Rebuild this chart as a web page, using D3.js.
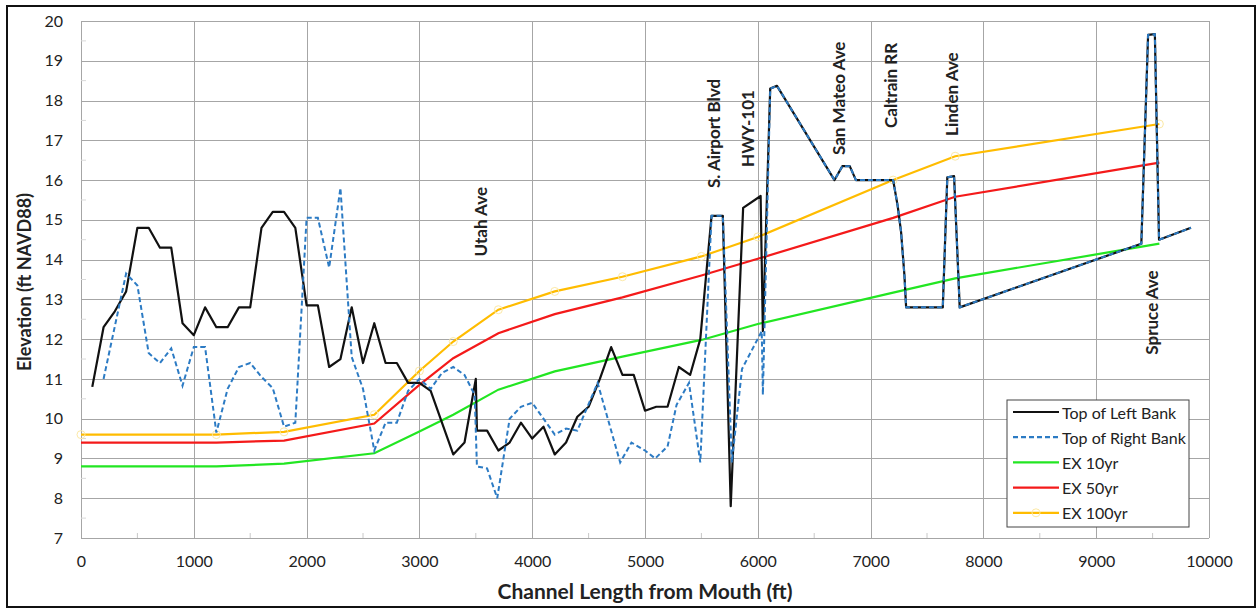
<!DOCTYPE html>
<html lang="en">
<head>
    <meta charset="UTF-8"/>
    <title>Channel profile</title>
    <script src="https://d3js.org/d3.v7.min.js"></script>
    <style type="text/css">
        body {
            margin: 0;
            background: #fff;
        }
        text {
            font-family: Lato, "Open Sans", Arial, sans-serif;
            fill: #222;
        }
        .grid line {
            stroke: #a6a6a6;
            stroke-width: 1px;
            shape-rendering: crispEdges;
        }
        .grid path {
            display: none;
        }
        .tick-label text {
            font-size: 16px;
        }
    </style>
</head>
<body>
<div id="my_dataviz"></div>

<script>
    // tick values
    const xTicks = [0, 1000, 2000, 3000, 4000, 5000, 6000, 7000, 8000, 9000, 10000];
    const yTicks = [7, 8, 9, 10, 11, 12, 13, 14, 15, 16, 17, 18, 19, 20];

    // [station (ft), elevation (ft)]
    const leftBank = [[100,10.8],[200,12.3],[300,12.7],[400,13.2],[500,14.8],[600,14.8],[700,14.3],[800,14.3],
        [900,12.4],[1000,12.1],[1100,12.8],[1200,12.3],[1300,12.3],[1400,12.8],[1500,12.8],[1600,14.8],[1700,15.2],
        [1800,15.2],[1900,14.8],[2000,12.85],[2100,12.85],[2200,11.3],[2300,11.5],[2400,12.8],[2500,11.4],[2600,12.4],
        [2700,11.4],[2800,11.4],[2900,10.9],[3000,10.9],[3100,10.7],[3300,9.1],[3400,9.4],[3500,11.0],[3510,9.7],
        [3600,9.7],[3700,9.2],[3800,9.4],[3900,9.9],[4000,9.5],[4100,9.8],[4200,9.1],[4300,9.4],[4400,10.05],
        [4500,10.3],[4600,11.0],[4700,11.8],[4800,11.1],[4900,11.1],[5000,10.2],[5100,10.3],[5200,10.3],[5300,11.3],
        [5400,11.1],[5490,12.0],[5590,15.1],[5690,15.1],[5760,7.8],[5870,15.3],[6025,15.6],[6045,12.2],[6110,18.3],
        [6170,18.37],[6680,16.0],[6750,16.35],[6815,16.35],[6870,16.0],[7200,16.0],[7240,15.35],[7270,14.7],
        [7300,13.6],[7315,12.8],[7640,12.8],[7680,16.07],[7740,16.1],[7790,12.8],[9400,14.4],[9460,19.65],
        [9520,19.67],[9557,14.5],[9840,14.8]];

    const rightBank = [[200,11.0],[400,13.65],[500,13.35],[600,11.65],[700,11.4],[800,11.77],[900,10.83],
        [1000,11.8],[1100,11.8],[1200,9.65],[1300,10.75],[1400,11.3],[1500,11.4],[1600,11.05],[1700,10.77],
        [1800,9.8],[1900,9.9],[2000,15.05],[2100,15.05],[2200,13.8],[2300,15.8],[2400,11.55],[2500,10.75],
        [2600,9.2],[2700,9.9],[2800,9.9],[2900,10.7],[3000,11.0],[3100,10.75],[3200,11.15],[3300,11.3],
        [3400,11.1],[3490,10.6],[3510,8.8],[3600,8.75],[3690,8.0],[3800,10.0],[3900,10.3],[4000,10.4],
        [4100,10.0],[4200,9.6],[4300,9.75],[4400,9.7],[4580,10.9],[4780,8.9],[4880,9.4],[5000,9.2],[5090,9.0],
        [5200,9.3],[5280,10.35],[5390,10.9],[5490,8.9],[5590,15.1],[5690,15.1],[5770,8.9],[5860,11.25],
        [6035,12.2],[6045,10.6],[6110,18.3],[6170,18.37],[6680,16.0],[6750,16.35],[6815,16.35],[6870,16.0],
        [7200,16.0],[7240,15.35],[7270,14.7],[7300,13.6],[7315,12.8],[7640,12.8],[7680,16.07],[7740,16.1],
        [7790,12.8],[9400,14.4],[9460,19.65],[9520,19.67],[9557,14.5],[9840,14.8]];

    const ex10 = [[0,8.8],[1200,8.8],[1800,8.87],[2600,9.13],[3000,9.68],[3300,10.1],[3700,10.73],[4200,11.19],
        [4800,11.56],[5500,11.98],[6000,12.38],[7200,13.17],[7750,13.53],[9560,14.4]];
    const ex50 = [[0,9.4],[1200,9.4],[1800,9.45],[2600,9.88],[3000,10.85],[3300,11.52],[3700,12.15],[4200,12.63],
        [4800,13.05],[5500,13.6],[6000,14.02],[7200,15.05],[7750,15.58],[9560,16.44]];
    const ex100 = [[0,9.6],[1200,9.6],[1800,9.67],[2600,10.1],[3000,11.2],[3300,11.94],[3700,12.74],[4200,13.2],
        [4800,13.57],[5500,14.08],[6000,14.57],[7200,16.0],[7750,16.6],[9560,17.41]];

    // crossing labels: [station, label, elevation at the start of the text]
    const crossings = [[3538,"Utah Ave",14.08],[5603,"S. Airport Blvd",15.8],[5913,"HWY-101",16.33],
        [6711,"San Mateo Ave",16.63],[7177,"Caltrain RR",17.31],[7718,"Linden Ave",17.11],[9490,"Spruce Ave",11.61]];

    const legendNames = ["Top of Left Bank", "Top of Right Bank", "EX 10yr", "EX 50yr", "EX 100yr"];

    // set the dimensions and margins of the graph
    const W = 1257, H = 609;
    const margin = {top: 21, right: 48, bottom: 71, left: 81};
    const width = W - margin.left - margin.right;
    const height = H - margin.top - margin.bottom;

    const root = d3.select("#my_dataviz")
        .append("svg")
        .attr("width", W)
        .attr("height", H);

    // outer frame
    root.append("rect")
        .attr("x", 7).attr("y", 6)
        .attr("width", W - 9).attr("height", H - 8)
        .attr("fill", "none")
        .attr("stroke", "#111")
        .attr("stroke-width", 2);

    const svg = root.append("g")
        .attr("transform", "translate(" + margin.left + "," + margin.top + ")");

    const x = d3.scaleLinear().domain([0, 10000]).range([0, width]);
    const y = d3.scaleLinear().domain([7, 20]).range([height, 0]);

    // grid
    svg.append("g")
        .attr("class", "grid")
        .call(d3.axisBottom(x).tickValues(xTicks).tickSize(height).tickFormat(""));
    svg.append("g")
        .attr("class", "grid")
        .call(d3.axisLeft(y).tickValues(yTicks).tickSize(-width).tickFormat(""));

    // minor ticks
    svg.append("g")
        .selectAll("line")
        .data(d3.range(500, 10000, 1000))
        .enter().append("line")
        .attr("x1", function(d) { return x(d); })
        .attr("x2", function(d) { return x(d); })
        .attr("y1", height).attr("y2", height - 5)
        .attr("stroke", "#c8c8c8");
    svg.append("g")
        .selectAll("line")
        .data(d3.range(7.5, 20, 1))
        .enter().append("line")
        .attr("x1", 0).attr("x2", 5)
        .attr("y1", function(d) { return y(d); })
        .attr("y2", function(d) { return y(d); })
        .attr("stroke", "#d8d8d8");

    // tick labels
    const xAxis = svg.append("g")
        .attr("class", "tick-label")
        .attr("transform", "translate(0," + height + ")")
        .call(d3.axisBottom(x).tickValues(xTicks).tickSize(0).tickPadding(18).tickFormat(d3.format("d")));
    xAxis.select(".domain").remove();

    const yAxis = svg.append("g")
        .attr("class", "tick-label")
        .call(d3.axisLeft(y).tickValues(yTicks).tickSize(0).tickPadding(18));
    yAxis.select(".domain").remove();

    // axis titles
    svg.append("text")
        .attr("x", 645 - margin.left)
        .attr("y", height + 61)
        .attr("text-anchor", "middle")
        .style("font-size", "21px")
        .style("font-weight", "bold")
        .text("Channel Length from Mouth (ft)");
    svg.append("text")
        .attr("transform", "translate(-50," + (282 - margin.top) + ") rotate(-90)")
        .attr("text-anchor", "middle")
        .style("font-size", "18px")
        .style("font-weight", "bold")
        .text("Elevation (ft NAVD88)");

    const line = d3.line()
        .x(function(d) { return x(d[0]); })
        .y(function(d) { return y(d[1]); });

    // flood profiles
    svg.append("path").datum(ex10)
        .attr("fill", "none").attr("stroke", "#22e622").attr("stroke-width", 2.2)
        .attr("d", line);
    svg.append("path").datum(ex50)
        .attr("fill", "none").attr("stroke", "#f41a1a").attr("stroke-width", 2.2)
        .attr("d", line);
    svg.append("path").datum(ex100)
        .attr("fill", "none").attr("stroke", "#ffbc00").attr("stroke-width", 2.2)
        .attr("d", line);
    svg.selectAll(".m100")
        .data(ex100)
        .enter().append("circle")
        .attr("class", "m100")
        .attr("cx", function(d) { return x(d[0]); })
        .attr("cy", function(d) { return y(d[1]); })
        .attr("r", 4)
        .attr("fill", "none")
        .attr("stroke", "#fce9a6")
        .attr("stroke-width", 1);

    // banks
    svg.append("path").datum(leftBank)
        .attr("fill", "none").attr("stroke", "#111").attr("stroke-width", 2.2)
        .attr("stroke-linejoin", "round")
        .attr("d", line);
    svg.append("path").datum(rightBank)
        .attr("fill", "none").attr("stroke", "#2c7bc4").attr("stroke-width", 2)
        .attr("stroke-dasharray", "5,3")
        .attr("d", line);

    // crossing labels
    svg.selectAll(".xing")
        .data(crossings)
        .enter().append("text")
        .attr("class", "xing")
        .attr("transform", function(d) { return "translate(" + x(d[0]) + "," + y(d[2]) + ") rotate(-90)"; })
        .attr("dominant-baseline", "central")
        .style("font-size", "17px")
        .style("font-weight", "bold")
        .text(function(d) { return d[1]; });

    // legend
    const legendColors = ["#111", "#2c7bc4", "#22e622", "#f41a1a", "#ffbc00"];
    const lg = svg.append("g").attr("transform", "translate(" + (1007 - margin.left) + "," + (400 - margin.top) + ")");
    lg.append("rect")
        .attr("width", 182).attr("height", 127)
        .attr("fill", "#fff")
        .attr("stroke", "#444")
        .attr("stroke-width", 1);
    legendNames.forEach(function(name, i) {
        const ly = 12 + i * 25.2;
        lg.append("line")
            .attr("x1", 6).attr("x2", 52)
            .attr("y1", ly).attr("y2", ly)
            .attr("stroke", legendColors[i])
            .attr("stroke-width", 2.2)
            .attr("stroke-dasharray", i === 1 ? "5,3" : null);
        if (i === 4) {
            lg.append("circle").attr("cx", 29).attr("cy", ly).attr("r", 4)
                .attr("fill", "none").attr("stroke", "#fce9a6").attr("stroke-width", 1);
        }
        lg.append("text")
            .attr("x", 55).attr("y", ly)
            .attr("dominant-baseline", "central")
            .style("font-size", "16px")
            .text(name);
    });
</script>
</body>
</html>
